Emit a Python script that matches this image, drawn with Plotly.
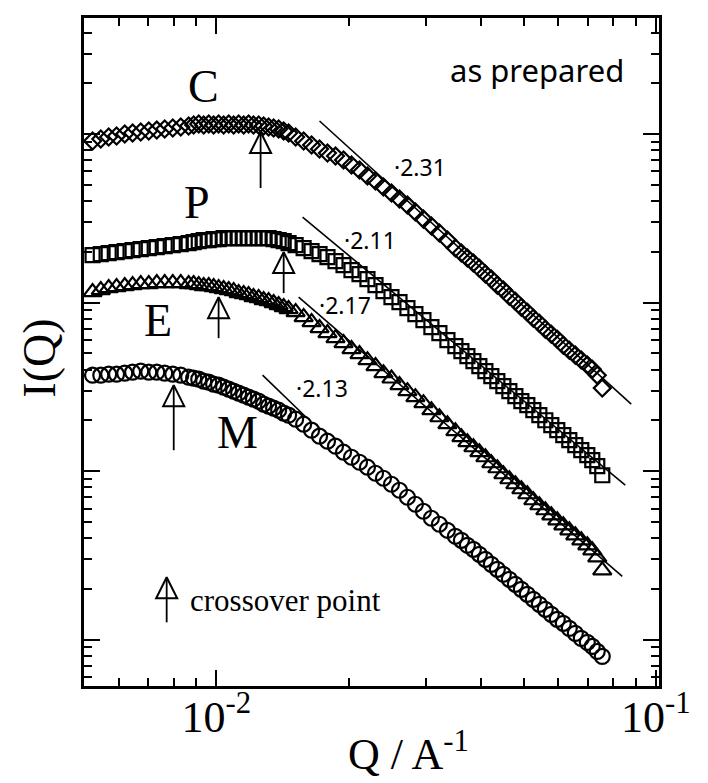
import numpy as np
import plotly.graph_objects as go

# ---------------- data ----------------
Q = [0.00523, 0.00546, 0.00569, 0.00593, 0.00619, 0.00645, 0.00673, 0.00702, 0.00732, 0.00763, 0.00796, 0.00830, 0.00865,
     0.00888, 0.00912, 0.00936, 0.00961, 0.00986, 0.01012, 0.01039, 0.01067, 0.01095, 0.01124, 0.01154, 0.01184, 0.01215,
     0.01248, 0.01281, 0.01315, 0.01350, 0.01386, 0.01423, 0.01460,
     0.01515, 0.01580, 0.01647, 0.01717, 0.01790, 0.01867, 0.01947, 0.02030, 0.02117, 0.02207, 0.02302, 0.02400, 0.02503,
     0.02610, 0.02721, 0.02837, 0.02959, 0.03085, 0.03217, 0.03355, 0.03498,
     0.03610, 0.03725, 0.03844, 0.03966, 0.04093, 0.04223, 0.04358, 0.04497, 0.04641, 0.04789, 0.04942, 0.05099, 0.05262,
     0.05430, 0.05603, 0.05781, 0.05965, 0.06156, 0.06353, 0.06556, 0.06764, 0.06981, 0.07165, 0.07355, 0.07550]

I_C = [910, 935, 961, 974, 1001, 1015, 1029, 1043, 1057, 1072, 1087, 1102, 1117,
       1132, 1148, 1132, 1148, 1132, 1148, 1132, 1148, 1132, 1148, 1132, 1148, 1132, 1132, 1117, 1102, 1087, 1072, 1043, 1015,
       961, 910, 862, 816, 772, 741, 702, 656, 612, 564, 527, 485, 447, 412, 379, 345, 313, 285, 259, 235, 211,
       197, 184, 172, 160, 148, 138, 127, 119, 109, 102, 94.0, 87.8, 80.9, 75.5, 69.6, 65.0, 60.7, 55.9, 52.2, 48.8,
       45.6, 42.6, 40.3, 37.1, 31.1]

I_P = [191.4, 194.1, 196.8, 199.5, 202.2, 205.0, 207.8, 210.7, 213.6, 216.6, 219.5, 222.6, 225.6,
       228.7, 231.9, 235.0, 235.0, 238.3, 238.3, 241.6, 241.6, 241.6, 241.6, 241.6, 241.6, 241.6, 241.6, 241.6, 241.6,
       238.3, 235.0, 231.9, 225.6,
       219.5, 210.7, 202.2, 194.1, 186.3, 176.4, 167.0, 156.0, 147.6, 137.9, 127.0, 117.0, 107.8, 100.7, 92.75, 85.45,
       78.72, 71.53, 65.91, 59.89, 55.17,
       51.53, 48.12, 44.94, 41.97, 39.19, 36.60, 34.18, 31.92, 29.82, 27.85, 26.01, 24.62, 22.99, 21.48, 20.05, 18.73,
       17.50, 16.34, 15.26, 14.25, 13.31, 12.43, 11.61, 10.70, 9.455]

I_E = [115.4, 118.6, 121.9, 123.6, 125.3, 127.0, 128.7, 128.7, 130.5, 130.5, 130.5, 130.5, 128.7,
       128.7, 127.0, 125.3, 125.3, 123.6, 121.9, 120.2, 118.6, 117.0, 113.9, 112.3, 110.8, 107.8, 106.4, 103.5, 102.1,
       99.31, 96.63, 94.03, 91.50,
       87.82, 82.02, 76.60, 70.56, 65.91, 61.55, 57.47, 52.94, 49.46, 45.55, 41.97, 38.13, 35.46, 32.37, 29.82, 27.47,
       25.31, 22.99, 20.89, 18.99, 17.26,
       15.90, 14.85, 13.86, 12.95, 12.09, 11.14, 10.40, 9.586, 8.952, 8.360, 7.807, 7.291, 6.718, 6.274, 5.859, 5.471,
       5.110, 4.772, 4.457, 4.163, 3.887, 3.631, 3.390, 3.081, 2.579]

I_M = [37.11, 37.11, 37.62, 37.62, 38.13, 38.66, 39.19, 38.66, 38.66, 38.13, 37.62, 37.11, 36.11,
       35.62, 35.13, 34.18, 33.72, 32.81, 32.37, 31.49, 30.64, 29.82, 29.01, 28.23, 27.47, 26.73, 26.01, 24.97, 24.29,
       23.63, 22.99, 22.07, 21.48,
       20.34, 18.99, 17.50, 16.12, 15.05, 14.06, 12.95, 12.09, 11.29, 10.55, 9.717, 9.074, 8.360, 7.702, 6.999, 6.360,
       5.779, 5.252, 4.839, 4.457, 4.106,
       3.887, 3.631, 3.437, 3.210, 2.998, 2.799, 2.615, 2.443, 2.281, 2.130, 1.989, 1.858, 1.735, 1.621, 1.514, 1.414,
       1.320, 1.250, 1.167, 1.090, 1.018, 0.9638, 0.9124, 0.8522, 0.7960]

series_names = ["C", "P", "E", "M"]
series_symbols = ["diamond-open", "square-open", "triangle-up-open", "circle-open"]
series_sizes = [13, 14, 16, 15]

# power-law fit lines (end points)
fit_C_Q = [0.01717, 0.08787]; fit_C_I = [1196, 24.97]
fit_P_Q = [0.01571, 0.08516]; fit_P_I = [321.9, 8.248]
fit_E_Q = [0.01539, 0.08384]; fit_E_I = [107.8, 2.376]
fit_M_Q = [0.01274, 0.01601]; fit_M_I = [37.11, 20.89]

slope_text = ["\u00b72.31", "\u00b72.11", "\u00b72.17", "\u00b72.13"]
slope_Q = [0.02913, 0.02242, 0.01967, 0.01735]
slope_I = [637.7, 235.0, 96.63, 31.07]

label_Q = [0.00936, 0.009045, 0.007375, 0.01118]
label_I = [1904, 395.3, 78.72, 17.02]

# crossover points (arrows): Q, tip intensity, tail intensity
cross_Q = [0.01261, 0.01423, 0.01012, 0.00800]
cross_tip_I = [1029, 199.5, 107.8, 32.37]
cross_tail_I = [478.5, 113.9, 61.55, 13.31]

key_arrow_Q = 0.00771
key_arrow_tip_I = 2.344
key_arrow_tail_I = 1.267
key_text_Q = 0.00861
key_text_I = 1.712

note_Q = 0.08561
note_I = 2402

# ---------------- figure ----------------
SERIF = "Liberation Serif, Times New Roman, serif"
SANS = "Noto Sans, Open Sans, sans-serif"

fig = go.Figure()
all_I = [I_C, I_P, I_E, I_M]
for name, sym, sz, iv in zip(series_names, series_symbols, series_sizes, all_I):
    fig.add_trace(go.Scatter(x=Q, y=iv, mode="markers", name=name,
                             marker=dict(symbol=sym, size=sz, color="black",
                                         line=dict(color="black", width=2.2))))

for fq, fi in [(fit_C_Q, fit_C_I), (fit_P_Q, fit_P_I), (fit_E_Q, fit_E_I), (fit_M_Q, fit_M_I)]:
    fig.add_trace(go.Scatter(x=fq, y=fi, mode="lines", line=dict(color="black", width=1.6),
                             showlegend=False, hoverinfo="skip"))

# arrows (stems + open heads)
arrow_Q = cross_Q + [key_arrow_Q]
arrow_tip = cross_tip_I + [key_arrow_tip_I]
arrow_tail = cross_tail_I + [key_arrow_tail_I]
for aq, tip, tail in zip(arrow_Q, arrow_tip, arrow_tail):
    fig.add_trace(go.Scatter(x=[aq, aq], y=[tail, tip], mode="lines",
                             line=dict(color="black", width=1.8), showlegend=False, hoverinfo="skip"))
fig.add_trace(go.Scatter(x=arrow_Q, y=arrow_tip, mode="markers", showlegend=False, hoverinfo="skip",
                         marker=dict(symbol="arrow-up-open", size=21, color="black",
                                     line=dict(color="black", width=2))))

ann = []
for t, q, i in zip(slope_text, slope_Q, slope_I):
    ann.append(dict(x=np.log10(q), y=np.log10(i), xref="x", yref="y", text=t, showarrow=False,
                    xanchor="center", yanchor="middle", font=dict(family=SANS, size=23, color="black")))
for t, q, i in zip(series_names, label_Q, label_I):
    ann.append(dict(x=np.log10(q), y=np.log10(i), xref="x", yref="y", text=t, showarrow=False,
                    xanchor="center", yanchor="middle", font=dict(family=SERIF, size=46, color="black")))
ann.append(dict(x=np.log10(note_Q), y=np.log10(note_I), xref="x", yref="y", text="as prepared",
                showarrow=False, xanchor="right", yanchor="middle",
                font=dict(family=SANS, size=31, color="black")))
ann.append(dict(x=np.log10(key_text_Q), y=np.log10(key_text_I), xref="x", yref="y", text="crossover point",
                showarrow=False, xanchor="left", yanchor="middle",
                font=dict(family=SERIF, size=31, color="black")))
ann.append(dict(x=0.5643, y=-0.098, xref="paper", yref="paper", text="Q / A<sup>-1</sup>",
                showarrow=False, xanchor="center", yanchor="middle",
                font=dict(family=SERIF, size=44, color="black")))
ann.append(dict(x=-0.0765, y=0.49, xref="paper", yref="paper", text="I(Q)", textangle=-90,
                showarrow=False, xanchor="center", yanchor="middle",
                font=dict(family=SERIF, size=46, color="black")))

x_major = [0.01, 0.1]
x_major_text = ["10<sup>-2</sup>", "10<sup>-1</sup>"]
x_minor = [m * 10.0 ** e for e in (-3, -2) for m in range(2, 10)]
y_major = [1, 10, 100, 1000]
y_minor = [m * 10.0 ** e for e in (-1, 0, 1, 2, 3) for m in range(2, 10)]

fig.update_layout(
    width=708, height=783,
    margin=dict(l=84, r=49, t=18, b=97),
    plot_bgcolor="white", paper_bgcolor="white",
    showlegend=False,
    annotations=ann,
)
fig.update_xaxes(type="log", range=[-2.301, -0.993], showline=True, linewidth=2.5, linecolor="black",
                 mirror="allticks", ticks="inside", ticklen=16, tickwidth=1.8, tickcolor="black",
                 tickmode="array", tickvals=x_major, ticktext=x_major_text,
                 tickfont=dict(family=SERIF, size=44, color="black"), ticklabelstandoff=-10,
                 showgrid=False, zeroline=False,
                 minor=dict(tickmode="array", tickvals=x_minor, ticks="inside", ticklen=8, tickwidth=1.6,
                            tickcolor="black", showgrid=False))
fig.update_yaxes(type="log", range=[-0.275, 3.689], showline=True, linewidth=2.5, linecolor="black",
                 mirror="allticks", ticks="inside", ticklen=16, tickwidth=1.8, tickcolor="black",
                 tickmode="array", tickvals=y_major, showticklabels=False,
                 showgrid=False, zeroline=False,
                 minor=dict(tickmode="array", tickvals=y_minor, ticks="inside", ticklen=8, tickwidth=1.6,
                            tickcolor="black", showgrid=False))

fig.write_html("out.html")
